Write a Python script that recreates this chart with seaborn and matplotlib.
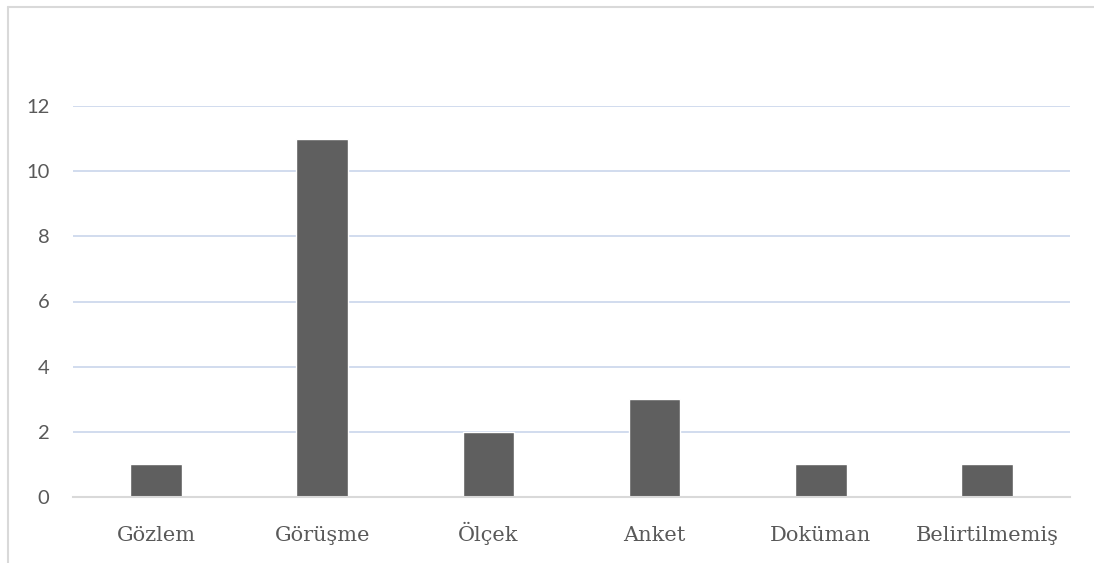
import matplotlib
matplotlib.use("Agg")
import matplotlib.pyplot as plt
from matplotlib.lines import Line2D
import seaborn as sns
import pandas as pd

categories = ["Gözlem", "Görüşme", "Ölçek", "Anket", "Doküman", "Belirtilmemiş"]
counts = [1, 11, 2, 3, 1, 1]
y_ticks = [0, 2, 4, 6, 8, 10, 12]

df = pd.DataFrame({"yontem": categories, "sayi": counts})

sns.set_theme(style="white")
plt.rcParams["font.family"] = ["Lato", "DejaVu Sans"]

W, H = 1094, 563
fig = plt.figure(figsize=(W / 100, H / 100), dpi=100)
ax = fig.add_axes([73 / W, (H - 497) / H, (1070 - 73) / W, (497 - 106) / H])

sns.barplot(data=df, x="yontem", y="sayi", color="#5f5f5f", width=0.31,
            saturation=1, ax=ax, zorder=3)

ax.set_ylim(0, 12)
ax.set_xlim(-0.5, len(categories) - 0.5)
ax.set_yticks(y_ticks)
ax.yaxis.grid(True, color="#c9d6eb", linewidth=1.2, zorder=0)
ax.set_axisbelow(True)
for side in ["top", "right", "left"]:
    ax.spines[side].set_visible(False)
ax.spines["bottom"].set_color("#d9d9d9")
ax.spines["bottom"].set_linewidth(1.5)
ax.spines["bottom"].set_zorder(4)

ax.set_xlabel("")
ax.set_ylabel("")
ax.tick_params(axis="both", length=0)
ax.tick_params(axis="y", pad=17, labelsize=14.5, labelcolor="#595959")
ax.tick_params(axis="x", pad=31.5, labelsize=15, labelcolor="#595959")
for lbl in ax.get_xticklabels():
    lbl.set_family(["DejaVu Serif"])
    lbl.set_verticalalignment("baseline")

# frame of the chart area
fig.add_artist(Line2D([8 / W, 8 / W], [0, 1 - 7 / H], color="#d9d9d9", linewidth=1.5))
fig.add_artist(Line2D([8 / W, 1], [1 - 7 / H, 1 - 7 / H], color="#d9d9d9", linewidth=1.5))

fig.savefig("out.png", dpi=100)
